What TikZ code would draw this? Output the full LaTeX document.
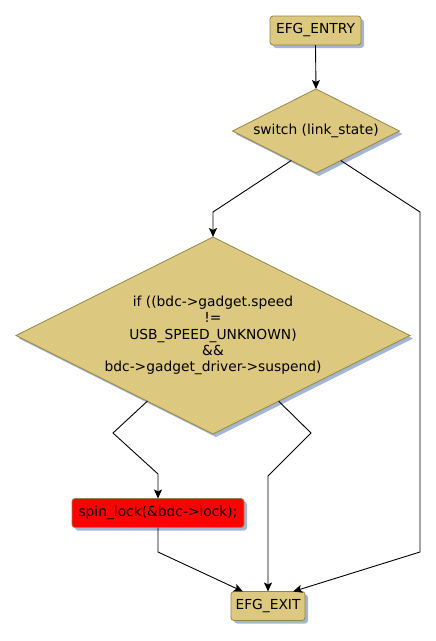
\documentclass[tikz,border=0pt]{standalone}
\usepackage{fontspec}
\setmainfont{DejaVu Sans}
\usetikzlibrary{shapes.geometric,shadows,arrows.meta}
\definecolor{sabbia}{RGB}{220,200,126}
\definecolor{bordo}{RGB}{150,132,70}
\definecolor{ombra}{RGB}{165,182,210}
\tikzset{
  ombreggiato/.style={drop shadow={shadow xshift=3pt,shadow yshift=-3pt,fill=ombra,opacity=1}},
  blocco/.style={draw=bordo,line width=0.8pt,fill=sabbia,rounded corners=3pt,minimum height=29pt,inner sep=0pt,outer sep=0pt,ombreggiato},
  scelta/.style={diamond,draw=bordo,line width=0.8pt,fill=sabbia,aspect=2,inner sep=0pt,outer sep=0pt,align=center,ombreggiato}
}
\begin{document}
\begin{tikzpicture}[x=1pt,y=-1pt,font=\fontsize{13.8}{16.3}\selectfont,>={Stealth[length=9pt,width=8pt,inset=2pt]},line width=0.9pt]
    \useasboundingbox (0,0) rectangle (436,641);

    % Blocchi
    \node[blocco,minimum width=91pt] (entry) at (315.5,30.5) {EFG\_ENTRY};
    \node[scelta,minimum width=167pt,minimum height=84pt] (sw) at (316,131) {switch (link\_state)};
    \node[scelta,minimum width=394pt,minimum height=197pt] (cond) at (213,335.5)
        {if ((bdc->gadget.speed\\!=\\USB\_SPEED\_UNKNOWN)\\\&\&\\bdc->gadget\_driver->suspend)};
    \node[blocco,fill=red,minimum width=172pt] (lock) at (158,513) {spin\_lock(\&bdc->lock);};
    \node[blocco,minimum width=74pt] (exit) at (268,606) {EFG\_EXIT};

    % Frecce
    \draw[->] (entry.south) -- (sw.north);
    \draw[->] (sw.230) -- (cond.north |- 0,212) -- (cond.north);
    \draw[->] (sw.310) -- (420,212) -- (420,552) -- (exit.30);
    \draw[->] (cond.225) -- (113,433) -- (lock.north |- 0,474) -- (lock.north);
    \draw[->] (cond.315) -- (311,433) -- (exit.north |- 0,476) -- (exit.north);
    \draw[->] (lock.south) -- (lock.south |- 0,552) -- (exit.150);
\end{tikzpicture}
\end{document}
